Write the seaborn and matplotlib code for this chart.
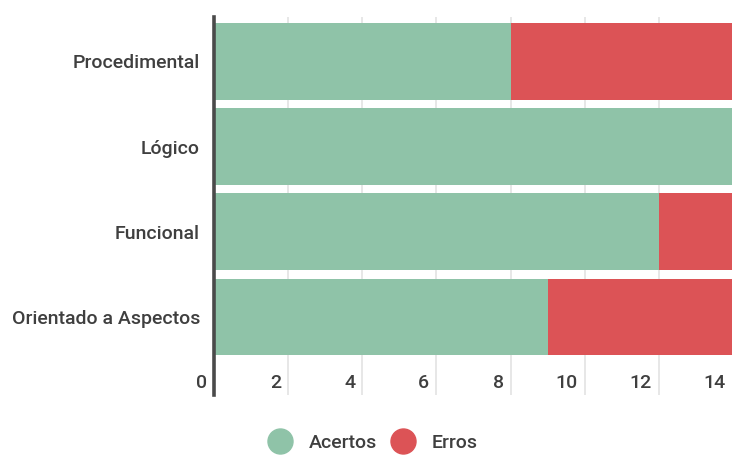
import matplotlib
matplotlib.use("Agg")
import matplotlib.pyplot as plt
import matplotlib.transforms as mtransforms
from matplotlib.lines import Line2D
import seaborn as sns
import pandas as pd

# Data
categories = ["Procedimental", "Lógico", "Funcional", "Orientado a Aspectos"]
acertos = [8, 14, 12, 9]
erros = [6, 0, 2, 5]
x_ticks = [0, 2, 4, 6, 8, 10, 12, 14]
series_names = ["Acertos", "Erros"]

GREEN = "#8FC3A8"
RED = "#DC5356"
TEXT = "#3F3F3F"
GRID = "#E3E3E3"
AXIS = "#4A4A4A"
FS = 14
FW = 500

sns.set_theme(style="white")
plt.rcParams["font.family"] = ["Roboto", "DejaVu Sans"]

df = pd.DataFrame({
    "categoria": categories,
    "acertos": acertos,
    "total": [a + e for a, e in zip(acertos, erros)],
})

fig = plt.figure(figsize=(7.32, 4.55), dpi=100)
ax = fig.add_axes([214 / 732, 1 - 395 / 455, 519 / 732, 378 / 455])

# Stacked bars: full total in red, correct answers in green on top
sns.barplot(data=df, y="categoria", x="total", order=categories, color=RED,
            width=0.9, saturation=1, orient="h", ax=ax, zorder=2, linewidth=0)
sns.barplot(data=df, y="categoria", x="acertos", order=categories, color=GREEN,
            width=0.9, saturation=1, orient="h", ax=ax, zorder=3, linewidth=0)

ax.set_xlim(0, 14)
ax.set_ylim(3.914, -0.52)
ax.set_xlabel("")
ax.set_ylabel("")

# Vertical gridlines
for t in x_ticks[1:]:
    ax.axvline(t, color=GRID, lw=1.2, zorder=1)

for side in ["top", "right", "bottom"]:
    ax.spines[side].set_visible(False)
ax.spines["left"].set_color(AXIS)
ax.spines["left"].set_linewidth(2.6)
ax.spines["left"].set_zorder(5)

ax.set_xticks([])
ax.tick_params(axis="y", length=0, pad=10, labelsize=FS, labelcolor=TEXT)
for lbl in ax.get_yticklabels():
    lbl.set_fontweight(FW)

# X tick labels placed inside the plot area, just left of each gridline
trans = mtransforms.blended_transform_factory(ax.transData, ax.transAxes)
for t in x_ticks:
    ax.annotate(str(t), xy=(t, 0), xycoords=trans, xytext=(-7, 12),
                textcoords="offset pixels", ha="right", va="center",
                fontsize=FS, fontweight=FW, color=TEXT)

# Legend
handles = [
    Line2D([0], [0], marker="o", linestyle="", markersize=18,
           markerfacecolor=GREEN, markeredgecolor=GREEN),
    Line2D([0], [0], marker="o", linestyle="", markersize=18,
           markerfacecolor=RED, markeredgecolor=RED),
]
leg = fig.legend(handles, series_names, loc="center",
                 bbox_to_anchor=(373 / 732, 1 - 443 / 455), ncol=2,
                 frameon=False, fontsize=FS, handletextpad=0.9,
                 columnspacing=0.7, handlelength=1.2)
for txt in leg.get_texts():
    txt.set_color(TEXT)
    txt.set_fontweight(FW)

fig.savefig("out.png", dpi=100)
